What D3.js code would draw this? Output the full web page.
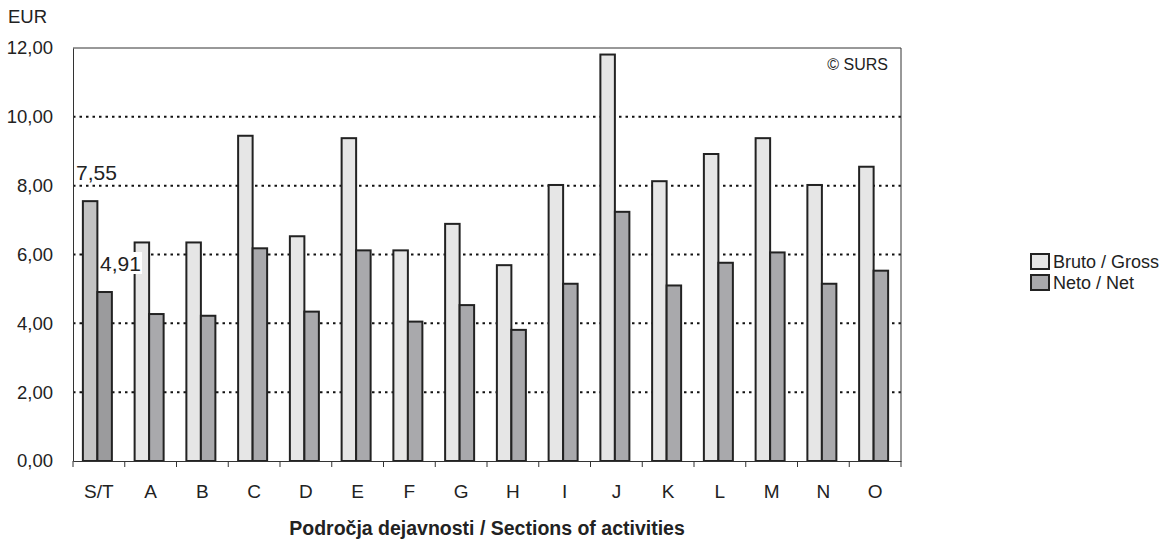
<!DOCTYPE html>
<html><head><meta charset="utf-8">
<script src="https://cdn.jsdelivr.net/npm/d3@7"></script>
<style>body{margin:0;background:#fff;font-family:"Liberation Sans",Arial,sans-serif;}</style>
</head><body><svg id="c" width="1173" height="542"></svg>
<script>
const categories = ["S/T","A","B","C","D","E","F","G","H","I","J","K","L","M","N","O"];
const gross = [7.55,6.35,6.35,9.45,6.53,9.38,6.12,6.89,5.69,8.02,11.81,8.13,8.92,9.38,8.02,8.55];
const net   = [4.91,4.27,4.22,6.18,4.34,6.12,4.05,4.53,3.81,5.15,7.24,5.10,5.76,6.06,5.15,5.53];
const yTicks = [0,2,4,6,8,10,12];
const seriesNames = ["Bruto / Gross","Neto / Net"];

const FONT = "Liberation Sans, Arial, sans-serif";
const svg = d3.select("#c").attr("font-family",FONT);
const L=73,R=901,T=48,B=461;
const x = d3.scaleBand().domain(categories).range([L,R]).padding(0);
const y = d3.scaleLinear().domain([0,12]).range([B,T]);
const fmt = v => d3.format(".2f")(v).replace(".",",");

// gridlines
svg.append("g").selectAll("line").data(yTicks.filter(v=>v>0&&v<12)).join("line")
  .attr("x1",L).attr("x2",R).attr("y1",d=>y(d)).attr("y2",d=>y(d))
  .attr("stroke","#111").attr("stroke-width",2).attr("stroke-dasharray","2.5 4");

// frame
svg.append("path").attr("d",`M${L},${T}H${R}V${B}`).attr("fill","none").attr("stroke","#333").attr("stroke-width",1);

const bw=14.5;
const g = svg.append("g");
categories.forEach((c,i)=>{
  const cx = x(c)+x.bandwidth()/2-1.5;
  const st = i===0;
  g.append("rect").attr("x",cx-bw).attr("y",y(gross[i])).attr("width",bw).attr("height",B-y(gross[i]))
   .attr("fill",st?"#c3c3c3":"#e6e6e6").attr("stroke","#222").attr("stroke-width",2);
  g.append("rect").attr("x",cx).attr("y",y(net[i])).attr("width",bw).attr("height",B-y(net[i]))
   .attr("fill",st?"#9b9b9d":"#a9a9ac").attr("stroke","#222").attr("stroke-width",2);
});

// axes
const ya = svg.append("g").attr("transform",`translate(${L},0)`)
  .call(d3.axisLeft(y).tickValues(yTicks).tickFormat(fmt).tickSize(0).tickPadding(20));
ya.select(".domain").attr("stroke","#333");
ya.selectAll("text").attr("font-size",18.5).attr("fill","#222").attr("font-family",FONT);

const xa = svg.append("g").attr("transform",`translate(0,${B})`)
  .call(d3.axisBottom(x).tickSize(0).tickPadding(24));
xa.select(".domain").attr("stroke","#333");
xa.selectAll("text").attr("font-size",19).attr("fill","#222").attr("font-family",FONT);
svg.append("g").selectAll("line").data(d3.range(categories.length+1)).join("line")
  .attr("x1",i=>L+i*x.bandwidth()).attr("x2",i=>L+i*x.bandwidth()).attr("y1",B).attr("y2",B+6)
  .attr("stroke","#333");

// value labels
svg.append("text").attr("x",76).attr("y",180).attr("font-size",21).attr("fill","#222").text(fmt(gross[0]));
const lb = svg.append("g");
lb.append("rect").attr("x",99).attr("y",y(net[0])-40).attr("width",43).attr("height",22).attr("fill","#fff");
lb.append("text").attr("x",100).attr("y",y(net[0])-21).attr("font-size",21).attr("fill","#222").text(fmt(net[0]));

svg.append("text").attr("x",8).attr("y",23).attr("font-size",18.5).attr("fill","#222").text("EUR");
svg.append("text").attr("x",888).attr("y",70).attr("text-anchor","end").attr("font-size",16).attr("fill","#222").text("© SURS");
svg.append("text").attr("x",(L+R)/2).attr("y",535).attr("text-anchor","middle").attr("font-size",19.5).attr("font-weight","bold").attr("fill","#222").text("Področja dejavnosti / Sections of activities");

// legend
const lg = svg.append("g");
const lcol=["#e6e6e6","#a9a9ac"];
seriesNames.forEach((n,i)=>{
  lg.append("rect").attr("x",1031).attr("y",254+i*21).attr("width",18).attr("height",15)
    .attr("fill",lcol[i]).attr("stroke","#222").attr("stroke-width",2);
  lg.append("text").attr("x",1053).attr("y",268+i*21).attr("font-size",18).attr("fill","#222").text(n);
});
</script></body></html>
